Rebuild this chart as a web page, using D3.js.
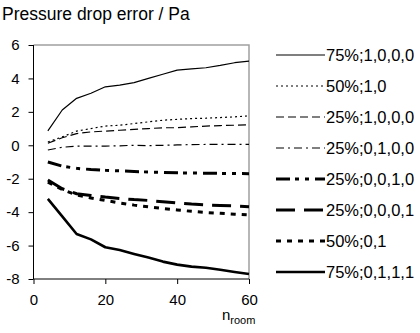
<!DOCTYPE html>
<html><head><meta charset="utf-8">
<script src="https://cdn.jsdelivr.net/npm/d3@7"></script>
<style>body{margin:0;background:#fff}svg{display:block}text{font-family:Arial,"Liberation Sans",sans-serif;fill:#000}</style>
</head><body><svg id="c" width="420" height="333"></svg>
<script>
const xValues = [4,8,12,16,20,24,28,32,36,40,44,48,52,56,60];
const seriesNames = ["75%;1,0,0,0","50%;1,0","25%;1,0,0,0","25%;0,1,0,0","25%;0,0,1,0","25%;0,0,0,1","50%;0,1","75%;0,1,1,1"];
const s75_1000 = [0.86,2.11,2.81,3.11,3.5,3.6,3.75,4.0,4.25,4.5,4.57,4.64,4.78,4.94,5.03];
const s50_10   = [0.2,0.5,0.85,1.0,1.15,1.2,1.3,1.4,1.5,1.55,1.6,1.62,1.66,1.7,1.76];
const s25_1000 = [0.12,0.45,0.7,0.8,0.85,0.9,0.95,1.0,1.05,1.05,1.1,1.15,1.18,1.2,1.22];
const s25_0100 = [-0.28,-0.12,-0.05,-0.05,-0.05,-0.03,0.0,-0.02,0.0,0.02,0.04,0.05,0.06,0.06,0.06];
const s25_0010 = [-1.0,-1.25,-1.38,-1.45,-1.5,-1.53,-1.57,-1.6,-1.62,-1.65,-1.66,-1.67,-1.68,-1.69,-1.7];
const s25_0001 = [-2.08,-2.6,-2.9,-3.0,-3.1,-3.18,-3.25,-3.3,-3.38,-3.45,-3.52,-3.57,-3.6,-3.63,-3.67];
const s50_01   = [-2.2,-2.65,-2.97,-3.15,-3.3,-3.45,-3.58,-3.68,-3.78,-3.87,-3.95,-4.02,-4.07,-4.12,-4.17];
const s75_0111 = [-3.21,-4.25,-5.31,-5.63,-6.1,-6.27,-6.5,-6.72,-6.96,-7.14,-7.26,-7.33,-7.45,-7.58,-7.7];
const seriesValues = [s75_1000,s50_10,s25_1000,s25_0100,s25_0010,s25_0001,s50_01,s75_0111];
const yTicks = [-8,-6,-4,-2,0,2,4,6];
const xTicks = [0,20,40,60];

const styles = [
  {w:1.2, d:null},
  {w:1.2, d:"2,3"},
  {w:1.2, d:"8,4"},
  {w:1.2, d:"8,4,2,4"},
  {w:3, d:"14,5,4,6,4,6"},
  {w:3, d:"19,9"},
  {w:3, d:"5,6"},
  {w:2.6, d:null}
];

const svg = d3.select("#c");
const L=33.5, R=249, T=45, B=279;
const x = d3.scaleLinear().domain([0,60]).range([L,R]);
const y = d3.scaleLinear().domain([-8,6]).range([B,T]);

svg.append("text").attr("x",2).attr("y",20).style("font-size","17.5px").text("Pressure drop error / Pa");

// frame top & right gray
svg.append("path").attr("d",`M${L},${T}H${R}V${B}`).attr("fill","none").attr("stroke","#a0a0a0").attr("stroke-width",1.5);

const fmt = d => String(d);
const yAxis = svg.append("g").attr("transform",`translate(${L},0)`)
  .call(d3.axisLeft(y).tickValues(yTicks).tickSize(5).tickPadding(9).tickFormat(fmt));
const xAxis = svg.append("g").attr("transform",`translate(0,${B})`)
  .call(d3.axisBottom(x).tickValues(xTicks).tickSize(5).tickPadding(10).tickFormat(fmt));
[yAxis,xAxis].forEach(a=>{
  a.selectAll("text").style("font-size","15px").style("font-family","Arial,'Liberation Sans',sans-serif");
  a.select(".domain").attr("stroke","#000");
});
yAxis.select(".domain").attr("d",`M0,${T}V${B}`);
xAxis.select(".domain").attr("d",`M${L},0H${R}`);

const line = d3.line().x((d,i)=>x(xValues[i])).y(d=>y(d));
seriesValues.forEach((vals,k)=>{
  svg.append("path").datum(vals).attr("d",line).attr("fill","none")
    .attr("stroke","#000").attr("stroke-width",styles[k].w)
    .attr("stroke-dasharray",styles[k].d).attr("stroke-linejoin","round");
});

// legend
const legY = d3.scaleLinear().domain([0,7]).range([55,272]);
seriesNames.forEach((name,k)=>{
  const yy = legY(k);
  svg.append("line").attr("x1",276).attr("x2",325).attr("y1",yy).attr("y2",yy)
    .attr("stroke","#000").attr("stroke-width",styles[k].w).attr("stroke-dasharray",styles[k].d);
  svg.append("text").attr("x",326).attr("y",yy).attr("dy","0.36em").style("font-size","16.5px").text(name);
});

// x axis title
const xt = svg.append("text").attr("x",222).attr("y",320).style("font-size","15px");
xt.append("tspan").text("n");
xt.append("tspan").attr("dy",4).style("font-size","11px").text("room");
</script></body></html>
